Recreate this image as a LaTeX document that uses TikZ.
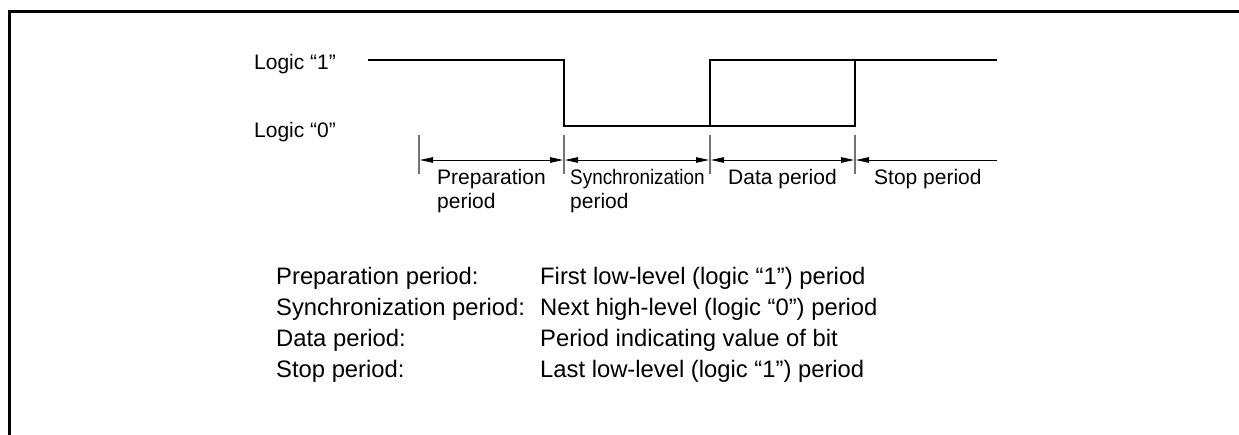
\documentclass[tikz,border=0pt]{standalone}
\usepackage{fontspec}
\usepackage{graphicx}
\setmainfont{Liberation Sans}
\usetikzlibrary{arrows.meta,positioning}

\tikzset{
  signal/.style={line width=2.4pt, line join=miter},
  marker/.style={line width=1.5pt, black!55},
  span/.style={line width=0.9pt, {Triangle[length=13pt,width=5.5pt]}-{Triangle[length=13pt,width=5.5pt]}},
  halfspan/.style={line width=0.9pt, {Triangle[length=13pt,width=5.5pt]}-},
  lbl/.style={font=\fontsize{21}{24}\selectfont, inner sep=0pt, align=left},
  level/.style={font=\fontsize{21}{24}\selectfont, inner sep=0pt, anchor=base west},
  entry/.style={font=\fontsize{23.8}{28}\selectfont, inner sep=0pt, anchor=base west}
}

\begin{document}
\begin{tikzpicture}[x=1pt,y=-1pt]
    \useasboundingbox (0,0) rectangle (1239,434);

    % frame
    \draw[line width=3pt] (1245,11) -- (9.5,11) -- (9.5,440);

    % level labels
    \node[level] (one) at (254,69.5) {Logic “1”};
    \node[level] (zero) at (254,137) {Logic “0”};

    % waveform
    \draw[signal] (368,60) -- (564,60) -- (564,126) -- (855,126) -- (855,60) -- (997,60);
    \draw[signal] (710,126) -- (710,60) -- (855,60);

    % period markers
    \coordinate (m1) at (419,160);
    \coordinate (m2) at (564,160);
    \coordinate (m3) at (710,160);
    \coordinate (m4) at (855,160);
    \coordinate (mend) at (997,160);
    \foreach \m in {m1,m2,m3,m4}
        \draw[marker] ([yshift=-14pt]\m) -- ([yshift=25pt]\m);

    \draw[span] ([xshift=1pt]m1) -- ([xshift=-1pt]m2);
    \draw[span] ([xshift=1pt]m2) -- ([xshift=-1pt]m3);
    \draw[span] ([xshift=1pt]m3) -- ([xshift=-1pt]m4);
    \draw[halfspan] ([xshift=1pt]m4) -- (mend);

    \node[lbl, anchor=north west] (prep) at (437,169) {Preparation\\period};
    \node[lbl, anchor=north west] (sync) at (570,169) {\scalebox{0.9}[1]{Synchronization}\\period};
    \node[lbl, anchor=base west] (data) at (728,184) {Data period};
    \node[lbl, anchor=base west] (stop) at (874,184) {Stop period};

    % legend
    \node[entry] (prepkey) at (276,284) {Preparation period:};
    \node[entry] (synckey) at (276,315) {Synchronization period:};
    \node[entry] (datakey) at (276,346) {Data period:};
    \node[entry] (stopkey) at (276,377) {Stop period:};
    \node[entry] (prepdesc) at (540,284) {First low-level (logic “1”) period};
    \node[entry] (syncdesc) at (540,315) {Next high-level (logic “0”) period};
    \node[entry] (datadesc) at (540,346) {Period indicating value of bit};
    \node[entry] (stopdesc) at (540,377) {Last low-level (logic “1”) period};
\end{tikzpicture}
\end{document}
